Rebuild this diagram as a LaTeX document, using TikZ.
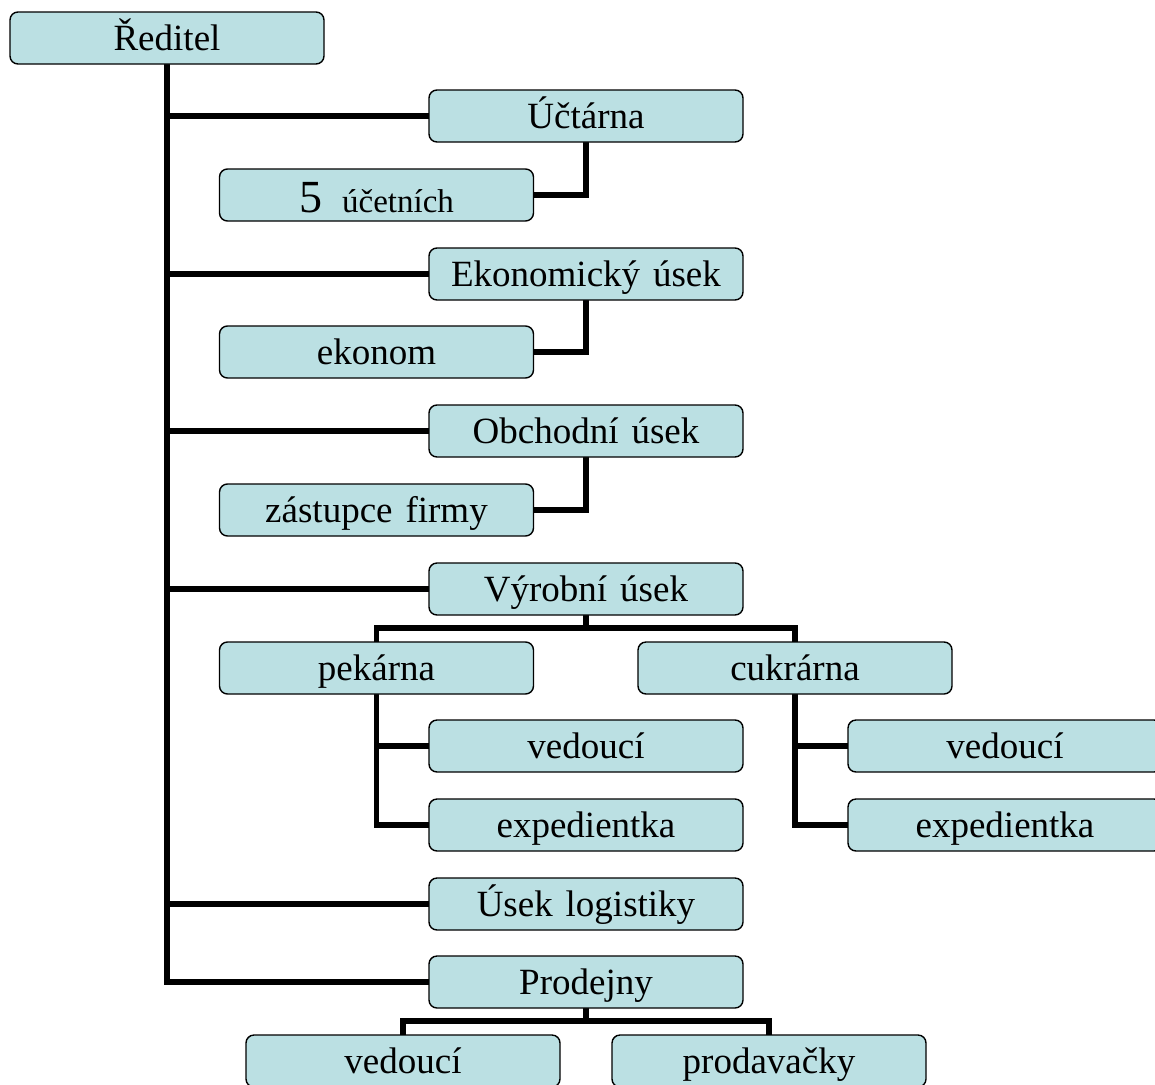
\documentclass[tikz,border=0pt]{standalone}
\usepackage{fontspec}
\setmainfont{Liberation Serif}[WordSpace={1.4,0.5,0.3}]
\usetikzlibrary{backgrounds}
\definecolor{boxfill}{RGB}{187,224,227}
\begin{document}
\begin{tikzpicture}[x=1pt,y=-1pt,
  orgbox/.style={draw=black, line width=1.4pt, fill=boxfill, rounded corners=8pt,
    minimum width=314pt, minimum height=52pt, inner sep=0pt,
    text height=24pt, text depth=0pt, font=\fontsize{37}{40}\selectfont},
  link/.style={line width=5.5pt, line join=miter, line cap=rect}]
\useasboundingbox (0,0) rectangle (1155,1084);
\clip (0,0) rectangle (1155,1084);
\coordinate (vj) at (586,628);
\coordinate (pj) at (586,1021);
\node[orgbox] (r) at (167,38) {Ředitel};
\node[orgbox] (u) at (586,116) {Účtárna};
\node[orgbox] (u5) at (376.5,195) {\raisebox{-5pt}{{\fontsize{46}{48}\selectfont 5}\hspace{20pt}{\fontsize{33}{34}\selectfont účetních}}};
\node[orgbox] (e) at (586,274) {Ekonomický úsek};
\node[orgbox] (ek) at (376.5,352) {ekonom};
\node[orgbox] (o) at (586,431) {Obchodní úsek};
\node[orgbox] (oz) at (376.5,510) {zástupce firmy};
\node[orgbox] (v) at (586,589) {Výrobní úsek};
\node[orgbox] (pk) at (376.5,668) {pekárna};
\node[orgbox] (ck) at (795,668) {cukrárna};
\node[orgbox] (pv) at (586,746) {vedoucí};
\node[orgbox] (pe) at (586,825) {expedientka};
\node[orgbox] (cv) at (1005,746) {vedoucí};
\node[orgbox] (ce) at (1005,825) {expedientka};
\node[orgbox] (l) at (586,904) {Úsek logistiky};
\node[orgbox] (p) at (586,982) {Prodejny};
\node[orgbox] (prv) at (403,1061) {vedoucí};
\node[orgbox] (prd) at (769,1061) {prodavačky};
\begin{scope}[on background layer]
\draw[link] (r.south) -- (r.south |- p.west) -- (p.west);
\draw[link] (r.south |- u.west) -- (u.west);
\draw[link] (r.south |- e.west) -- (e.west);
\draw[link] (r.south |- o.west) -- (o.west);
\draw[link] (r.south |- v.west) -- (v.west);
\draw[link] (r.south |- l.west) -- (l.west);
\draw[link] (u.south) |- (u5.east);
\draw[link] (e.south) |- (ek.east);
\draw[link] (o.south) |- (oz.east);
\draw[link] (v.south) -- (vj);
\draw[link] (pk.north) |- (vj) -| (ck.north);
\draw[link] (pk.south) |- (pe.west);
\draw[link] (pk.south |- pv.west) -- (pv.west);
\draw[link] (ck.south) |- (ce.west);
\draw[link] (ck.south |- cv.west) -- (cv.west);
\draw[link] (p.south) -- (pj);
\draw[link] (prv.north) |- (pj) -| (prd.north);
\end{scope}
\end{tikzpicture}
\end{document}
